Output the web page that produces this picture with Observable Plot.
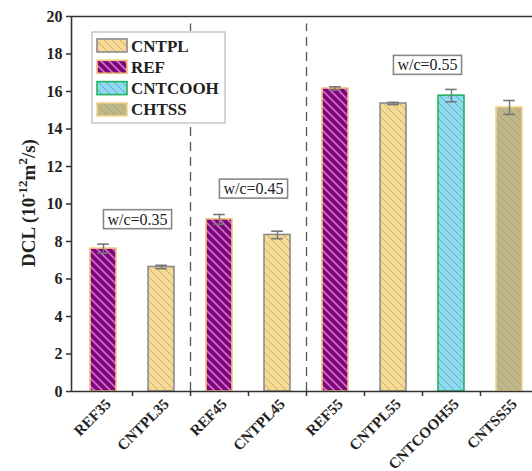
<!DOCTYPE html>
<html><head><meta charset="utf-8">
<script src="https://cdn.jsdelivr.net/npm/d3@7"></script>
<script src="https://cdn.jsdelivr.net/npm/@observablehq/plot@0.6"></script>
<style>
html,body{margin:0;padding:0;background:#fff;overflow:hidden}
#chart{position:relative;width:532px;height:471px}
</style></head><body><div id="chart"></div>
<script>
// ---- data ----
const categories = ["REF35","CNTPL35","REF45","CNTPL45","REF55","CNTPL55","CNTCOOH55","CNTSS55"];
const series     = ["REF","CNTPL","REF","CNTPL","REF","CNTPL","CNTCOOH","CHTSS"];
const groups     = ["0.35","0.35","0.45","0.45","0.55","0.55","0.55","0.55"];
const values     = [7.62, 6.64, 9.18, 8.35, 16.16, 15.36, 15.78, 15.15];
const errors     = [0.24, 0.09, 0.26, 0.2, 0.09, 0.06, 0.33, 0.37];
const legendNames = ["CNTPL","REF","CNTCOOH","CHTSS"];
const groupNames  = ["0.35","0.45","0.55"];
const groupLabels = ["w/c=0.35","w/c=0.45","w/c=0.55"];
const groupLabelY = [9.17, 10.8, 17.4];
const yTicks = [0,2,4,6,8,10,12,14,16,18,20];

// ---- styles ----
const styles = {
  REF:     {fill:"#7a077c", line:"#d76fc9", stroke:"#f3c27a", w:1.6},
  CNTPL:   {fill:"#f7da92", line:"#c4ae7f", stroke:"#8c8c8c", w:1.0},
  CNTCOOH: {fill:"#8fdaee", line:"#62abc0", stroke:"#22b35e", w:1.0},
  CHTSS:   {fill:"#bfb689", line:"#aaa27a", stroke:"#f3d28e", w:1.0}
};
const FONT = "'Liberation Serif','Times New Roman',serif";

const data = categories.map((c,i)=>({i, c, s:series[i], g:groups[i], v:values[i], e:errors[i]}));
const seps = d3.range(groups.length-1).filter(i=>groups[i]!==groups[i+1]).map(i=>i+0.5);
const labelsData = groupNames.map((g,k)=>{
  const idx = data.filter(d=>d.g===g).map(d=>d.i);
  return {x:(d3.min(idx)+d3.max(idx))/2, y:groupLabelY[k], t:groupLabels[k]};
});
const xDomain = [-0.552, 7.5];
const halfBar = 0.224;
const capHalf = 0.1;

const barMarks = Object.keys(styles).map(s => Plot.rect(data.filter(d=>d.s===s), {
  x1: d=>d.i-halfBar, x2: d=>d.i+halfBar, y1: 0, y2: "v",
  fill: `url(#pat-${s})`, stroke: styles[s].stroke, strokeWidth: 1.6
}));

const plot = Plot.plot({
  width: 532, height: 471,
  marginLeft: 71, marginRight: 0, marginTop: 16, marginBottom: 80,
  style: {background: "#fff", overflow: "hidden"},
  x: {domain: xDomain, range: [71, 538]},
  y: {domain: [0, 20], range: [391, 16]},
  marks: [
    Plot.ruleX(seps, {x: d=>d, y1: 0, y2: 19.6, stroke: "#555", strokeWidth: 1.3, strokeDasharray: "9,6"}),
    ...barMarks,
    Plot.ruleX(data, {x: "i", y1: d=>d.v-d.e, y2: d=>d.v+d.e, stroke: "#777", strokeWidth: 1.4}),
    Plot.ruleY(data, {x1: d=>d.i-capHalf, x2: d=>d.i+capHalf, y: d=>d.v+d.e, stroke: "#777", strokeWidth: 1.6}),
    Plot.ruleY(data, {x1: d=>d.i-capHalf, x2: d=>d.i+capHalf, y: d=>d.v-d.e, stroke: "#777", strokeWidth: 1.6}),
    Plot.text(labelsData, {x: "x", y: "y", text: "t", dx: 5, fontSize: 16, fill: "#222"}),
    Plot.ruleY([0, 20], {stroke: "#333", strokeWidth: 1.6}),
    Plot.ruleX([xDomain[0]], {y1: 0, y2: 20, stroke: "#333", strokeWidth: 1.6}),
    Plot.axisY({ticks: yTicks, tickSize: 5, tickPadding: 4, label: null, stroke: "#333", strokeWidth: 1.5, fill: "#222"}),
    Plot.axisX({ticks: d3.range(categories.length), tickSize: 0, tickPadding: 10, tickRotate: -45, dx: 5,
      tickFormat: i => categories[i], label: null, fill: "#222"}),
    Plot.axisX({ticks: d3.range(categories.length-1).map(i=>i+0.5), tickSize: 5, tickFormat: () => "", label: null, stroke: "#333", strokeWidth: 1.5})
  ]
});
document.getElementById("chart").appendChild(plot);

const svg = d3.select(plot);
// fonts
svg.selectAll("text").style("font-family", FONT);
svg.selectAll('g[aria-label="y-axis tick label"] text').style("font-size", "16px").style("font-weight", "bold");
svg.selectAll('g[aria-label="x-axis tick label"] text').style("font-size", "15px").style("font-weight", "bold");
// patterns
const defs = svg.insert("defs", ":first-child");
for (const [s, st] of Object.entries(styles)) {
  const p = defs.append("pattern").attr("id", `pat-${s}`).attr("patternUnits", "userSpaceOnUse")
    .attr("width", 8).attr("height", 8);
  p.append("rect").attr("width", 8).attr("height", 8).attr("fill", st.fill);
  p.append("path").attr("d", "M-1,-1L9,9M-3,5L3,11M5,-3L11,3")
    .attr("stroke", st.line).attr("stroke-width", st.w).attr("fill", "none");
}
// boxes around w/c labels
svg.selectAll("text").filter(function(){ return this.textContent.startsWith("w/c"); }).each(function(){
  const b = this.getBBox();
  const r = d3.select(this.parentNode).insert("rect", () => this)
    .attr("x", b.x-4).attr("y", b.y-1).attr("width", b.width+8).attr("height", b.height+2)
    .attr("fill", "#fff").attr("stroke", "#888").attr("stroke-width", 1.6);
  const tr = this.getAttribute("transform");
  if (tr) r.attr("transform", tr);
});
// y-axis title
const yt = svg.append("text").attr("transform", "translate(35,203) rotate(-90)")
  .attr("text-anchor", "middle").attr("font-weight", "bold").style("font-family", FONT)
  .attr("font-size", 19).attr("fill", "#222");
yt.append("tspan").text("DCL (10");
yt.append("tspan").attr("font-size", 13).attr("dy", -8).text("-12");
yt.append("tspan").attr("dy", 8).text("m");
yt.append("tspan").attr("font-size", 13).attr("dy", -8).text("2");
yt.append("tspan").attr("dy", 8).text("/s)");
// legend
const lg = svg.append("g").attr("text-anchor", "start");
lg.append("rect").attr("x", 92).attr("y", 32).attr("width", 133).attr("height", 91)
  .attr("fill", "#fff").attr("stroke", "#aaa").attr("stroke-width", 1);
legendNames.forEach((n, k) => {
  const y = 39 + k * 21.3;
  lg.append("rect").attr("x", 97).attr("y", y).attr("width", 30).attr("height", 13)
    .attr("fill", `url(#pat-${n})`).attr("stroke", styles[n].stroke).attr("stroke-width", 1.6);
  lg.append("text").attr("x", 131).attr("y", y + 12.5).attr("font-size", 17).style("font-family", FONT)
    .attr("font-weight", "bold").attr("fill", "#222").text(n);
});
</script></body></html>
